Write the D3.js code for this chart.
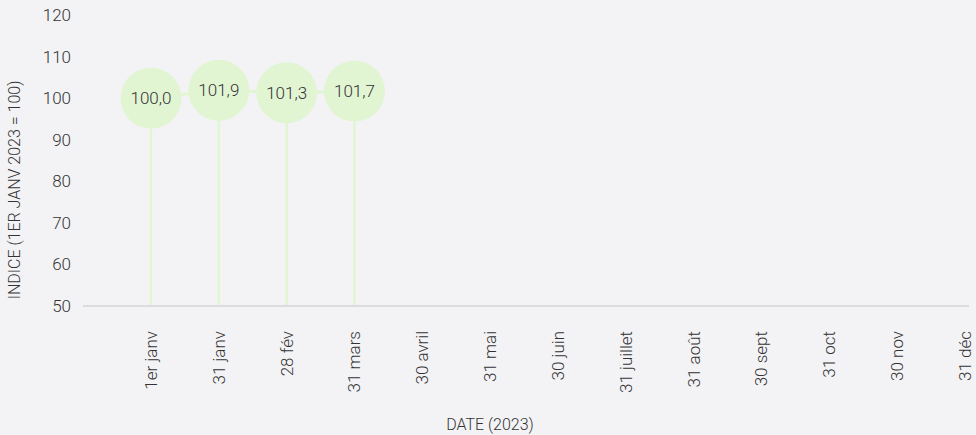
<!DOCTYPE html>
<html><head><meta charset="utf-8">
<script src="https://cdn.jsdelivr.net/npm/d3@7"></script>
<style>
html,body{margin:0;padding:0;background:#f3f3f6;}
text{font-family:Roboto,"Helvetica Neue",Arial,sans-serif;font-weight:300;}
</style></head>
<body>
<svg id="c" width="976" height="435"></svg>
<script>
const categories = ["1er janv","31 janv","28 fév","31 mars","30 avril","31 mai","30 juin","31 juillet","31 août","30 sept","31 oct","30 nov","31 déc"];
const values = [100.0, 101.9, 101.3, 101.7];
const yTicks = [50,60,70,80,90,100,110,120];

const svg = d3.select("#c");
const x = d3.scalePoint().domain(categories).range([151, 965]);
const y = d3.scaleLinear().domain([50,120]).range([306, 15]);
const green = "#e2f5d3";
const fmt = v => v.toFixed(1).replace(".", ",");
const fs = 17;

// y tick labels
svg.append("g").selectAll("text").data(yTicks).join("text")
  .attr("x", 71).attr("y", d => y(d)).attr("dy", "0.35em")
  .attr("text-anchor", "end").attr("font-size", fs).attr("fill", "#333")
  .text(d => d);

// baseline
svg.append("line").attr("x1", 83).attr("x2", 969).attr("y1", y(50)).attr("y2", y(50))
  .attr("stroke", "#dcdcdf").attr("stroke-width", 2);

// x labels
svg.append("g").selectAll("text").data(categories).join("text")
  .attr("transform", d => `translate(${x(d)},331) rotate(-90)`)
  .attr("dy", "0.35em").attr("text-anchor", "end")
  .attr("font-size", fs).attr("fill", "#333").text(d => d);

const pts = values.map((v,i) => ({c: categories[i], v}));

// stems
svg.append("g").selectAll("line").data(pts).join("line")
  .attr("x1", d => x(d.c)).attr("x2", d => x(d.c))
  .attr("y1", d => y(d.v)).attr("y2", y(50) - 1)
  .attr("stroke", green).attr("stroke-width", 2.5);

// connecting line
svg.append("path").datum(pts)
  .attr("d", d3.line().x(d => x(d.c)).y(d => y(d.v)))
  .attr("fill", "none").attr("stroke", green).attr("stroke-width", 3);

// circles
svg.append("g").selectAll("circle").data(pts).join("circle")
  .attr("cx", d => x(d.c)).attr("cy", d => y(d.v)).attr("r", 30.5)
  .attr("fill", green);

svg.append("g").selectAll("text").data(pts).join("text")
  .attr("x", d => x(d.c)).attr("y", d => y(d.v)).attr("dy", "0.35em")
  .attr("text-anchor", "middle").attr("font-size", fs).attr("fill", "#333")
  .text(d => fmt(d.v));

// axis titles
svg.append("text").attr("transform", "translate(14,190) rotate(-90)")
  .attr("dy", "0.35em").attr("text-anchor", "middle").attr("font-size", 16).attr("fill", "#333")
  .text("INDICE (1ER JANV 2023 = 100)");
svg.append("text").attr("x", 490).attr("y", 424).attr("dy", "0.35em")
  .attr("text-anchor", "middle").attr("font-size", 16).attr("fill", "#333")
  .text("DATE (2023)");
</script>
</body></html>
